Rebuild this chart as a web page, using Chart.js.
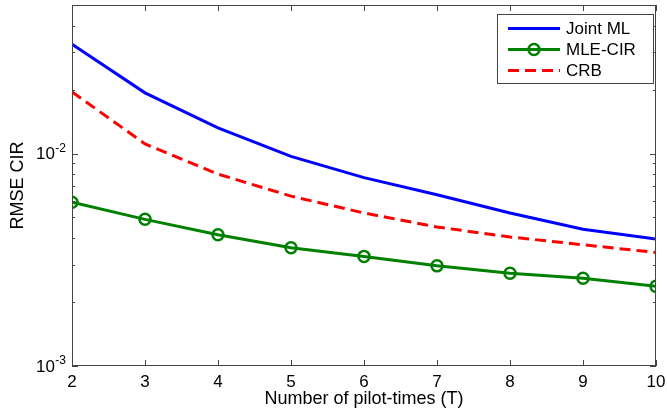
<!DOCTYPE html>
<html>
<head>
<meta charset="utf-8">
<script src="https://cdn.jsdelivr.net/npm/chart.js@4.4.1/dist/chart.umd.min.js"></script>
<style>
  html, body { margin: 0; padding: 0; background: #fff; }
  #wrap { width: 667px; height: 419px; }
</style>
</head>
<body>
<div id="wrap"><canvas id="rmseChart" width="667" height="419"></canvas></div>
<script>
// pilot times T
const pilotTimes = [2, 3, 4, 5, 6, 7, 8, 9, 10];
// RMSE values
const jointML = [0.0327, 0.0193, 0.0132, 0.0097, 0.0077, 0.0064, 0.00525, 0.0044, 0.00396];
const mleCIR  = [0.0059, 0.0049, 0.00415, 0.0036, 0.00328, 0.00296, 0.00273, 0.00259, 0.00237];
const crb     = [0.0195, 0.0111, 0.0080, 0.0063, 0.00525, 0.00451, 0.00405, 0.00372, 0.00342];
const yMajorTicks = [0.001, 0.01];
const yMinorTicks = [0.002, 0.003, 0.004, 0.005, 0.006, 0.007, 0.008, 0.009,
                     0.02, 0.03, 0.04];

const FONT = '"Liberation Sans", Arial, sans-serif';
const AXIS_COLOR = '#444';

function toPoints(vals) {
    return pilotTimes.map((t, i) => ({ x: t, y: vals[i] }));
}

// inward ticks on all four sides + box, like matlab axes
const boxTicks = {
    id: 'boxTicks',
    afterDatasetsDraw(chart) {
        const { ctx, chartArea: a, scales: { x, y } } = chart;
        ctx.save();
        ctx.strokeStyle = AXIS_COLOR;
        ctx.lineWidth = 1;
        ctx.strokeRect(a.left + 0.5, a.top + 0.5, a.right - a.left - 1, a.bottom - a.top - 1);
        ctx.beginPath();
        pilotTimes.forEach(t => {
            const px = Math.round(x.getPixelForValue(t)) + 0.5;
            ctx.moveTo(px, a.bottom); ctx.lineTo(px, a.bottom - 6);
            ctx.moveTo(px, a.top); ctx.lineTo(px, a.top + 6);
        });
        const tick = (v, len) => {
            const py = Math.round(y.getPixelForValue(v)) + 0.5;
            ctx.moveTo(a.left, py); ctx.lineTo(a.left + len, py);
            ctx.moveTo(a.right, py); ctx.lineTo(a.right - len, py);
        };
        yMajorTicks.forEach(v => tick(v, 6));
        yMinorTicks.forEach(v => tick(v, 3));
        ctx.stroke();

        // y labels as 10 with a raised exponent
        ctx.fillStyle = '#000';
        ctx.textBaseline = 'middle';
        yMajorTicks.forEach(v => {
            const py = y.getPixelForValue(v);
            const exp = String(Math.round(Math.log10(v)));
            ctx.font = '12px ' + FONT;
            ctx.textAlign = 'right';
            const ew = ctx.measureText(exp).width;
            const right = a.left - 6;
            ctx.fillText(exp, right, py - 5);
            ctx.font = '17px ' + FONT;
            ctx.fillText('10', right - ew - 0.5, py + 1);
        });
        ctx.restore();
    }
};

// boxed legend in the upper right corner
const boxLegend = {
    id: 'boxLegend',
    afterDraw(chart) {
        const { ctx, chartArea: a } = chart;
        const w = 156, h = 69;
        const left = a.right - w - 3, top = a.top + 9;
        ctx.save();
        ctx.fillStyle = '#fff';
        ctx.fillRect(left, top, w, h);
        ctx.strokeStyle = AXIS_COLOR;
        ctx.lineWidth = 1;
        ctx.strokeRect(left + 0.5, top + 0.5, w, h);
        ctx.font = '17px ' + FONT;
        ctx.textBaseline = 'middle';
        chart.data.datasets.forEach((ds, i) => {
            const cy = top + 14.5 + i * 21;
            const x0 = left + 11, x1 = left + 63;
            ctx.strokeStyle = ds.borderColor;
            ctx.lineWidth = ds.borderWidth;
            ctx.setLineDash(ds.borderDash || []);
            ctx.beginPath();
            ctx.moveTo(x0, cy); ctx.lineTo(x1, cy);
            ctx.stroke();
            ctx.setLineDash([]);
            if (ds.pointRadius > 0) {
                ctx.lineWidth = ds.pointBorderWidth;
                ctx.beginPath();
                ctx.arc((x0 + x1) / 2, cy, ds.pointRadius, 0, Math.PI * 2);
                ctx.stroke();
            }
            ctx.fillStyle = '#000';
            ctx.fillText(ds.label, x1 + 6, cy + 1);
        });
        ctx.restore();
    }
};

new Chart(document.getElementById('rmseChart').getContext('2d'), {
    type: 'line',
    data: {
        datasets: [
            {
                label: 'Joint ML',
                data: toPoints(jointML),
                borderColor: '#0000ff',
                borderWidth: 3,
                pointRadius: 0,
                tension: 0
            },
            {
                label: 'MLE-CIR',
                data: toPoints(mleCIR),
                borderColor: '#008000',
                borderWidth: 3,
                pointRadius: 5.5,
                pointBorderWidth: 2.5,
                pointBorderColor: '#008000',
                pointBackgroundColor: 'rgba(0,0,0,0)',
                tension: 0
            },
            {
                label: 'CRB',
                data: toPoints(crb),
                borderColor: '#ff0000',
                borderWidth: 3,
                borderDash: [11, 6],
                pointRadius: 0,
                tension: 0
            }
        ]
    },
    options: {
        responsive: false,
        animation: false,
        layout: { autoPadding: false, padding: { top: 5, right: 11, left: 0, bottom: 0 } },
        plugins: {
            legend: { display: false },
            tooltip: { enabled: false }
        },
        scales: {
            x: {
                type: 'linear',
                min: 2,
                max: 10,
                grid: { display: false, drawTicks: false },
                border: { display: false },
                afterFit(scale) {
                    scale.height = 53;
                    scale.paddingLeft = 0;
                    scale.paddingRight = 0;
                },
                ticks: {
                    stepSize: 1,
                    color: '#000',
                    padding: 6,
                    maxRotation: 0,
                    font: { family: FONT, size: 17 }
                },
                title: {
                    display: true,
                    text: 'Number of pilot-times (T)',
                    color: '#000',
                    padding: { top: 0, bottom: 9 },
                    font: { family: FONT, size: 18 }
                }
            },
            y: {
                type: 'logarithmic',
                min: 0.001,
                max: 0.05,
                grid: { display: false, drawTicks: false },
                border: { display: false },
                afterBuildTicks(scale) {
                    scale.ticks = yMajorTicks.map(v => ({ value: v, major: true }));
                },
                afterFit(scale) {
                    scale.width = 72;
                    scale.paddingTop = 0;
                    scale.paddingBottom = 0;
                },
                ticks: { display: false },
                title: {
                    display: true,
                    text: 'RMSE CIR',
                    color: '#000',
                    padding: { top: 7, bottom: 0 },
                    font: { family: FONT, size: 18 }
                }
            }
        }
    },
    plugins: [boxTicks, boxLegend]
});
</script>
</body>
</html>
